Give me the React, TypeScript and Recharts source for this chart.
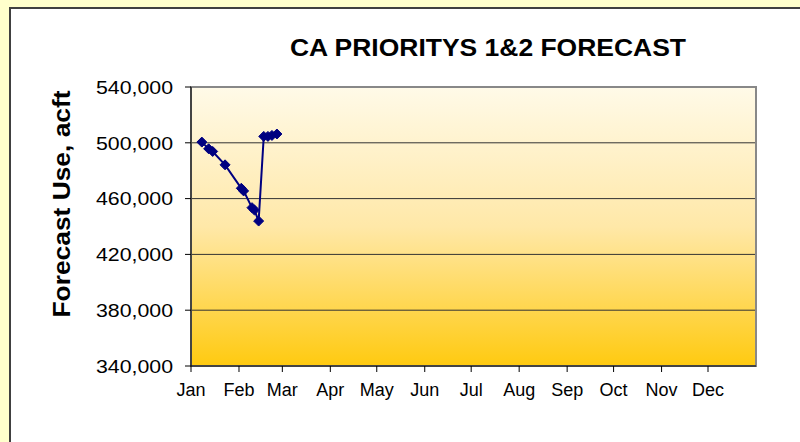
import React from 'react';
import { LineChart, Line, XAxis, YAxis, CartesianGrid, ReferenceArea } from 'recharts';

// Day-of-year of each forecast point
const days = [7, 11.4, 14, 22, 32.5, 34, 39.4, 41, 43.7, 47, 49.7, 52.3, 55.5];
// Forecast use, acft
const forecastUse = [500500, 495700, 493800, 484200, 467400, 465500, 453500, 451800, 443900, 504600, 504600, 505300, 506300];

const monthStarts = [0, 31, 59, 90, 120, 151, 181, 212, 243, 273, 304, 334];
const monthLabels = ['Jan', 'Feb', 'Mar', 'Apr', 'May', 'Jun', 'Jul', 'Aug', 'Sep', 'Oct', 'Nov', 'Dec'];
const yTicks = [340000, 380000, 420000, 460000, 500000, 540000];

const title = 'CA PRIORITYS 1&2 FORECAST';
const yLabel = 'Forecast Use, acft';

const data = days.map((d, i) => ({ day: d, use: forecastUse[i] }));

const FONT = 'Arial, "Liberation Sans", sans-serif';

const Diamond = (props: any) => {
  const { cx, cy } = props;
  if (cx == null || cy == null) return null;
  const r = 5;
  return (
    <polygon
      points={`${cx},${cy - r} ${cx + r},${cy} ${cx},${cy + r} ${cx - r},${cy}`}
      fill="#000080"
      stroke="#000080"
      strokeWidth={1}
    />
  );
};

const YTick = (props: any) => {
  const { x, y, payload } = props;
  const label = Number(payload.value).toLocaleString('en-US');
  return (
    <text
      x={x}
      y={y}
      dy="0.355em"
      textAnchor="end"
      fontFamily={FONT}
      fontSize={19}
      fill="#000"
      textLength={77}
      lengthAdjust="spacingAndGlyphs"
    >
      {label}
    </text>
  );
};

const XTick = (props: any) => {
  const { x, y, payload } = props;
  const label = monthLabels[monthStarts.indexOf(payload.value)];
  return (
    <text x={x} y={y} dy="0.71em" textAnchor="middle" fontFamily={FONT} fontSize={18} fill="#000">
      {label}
    </text>
  );
};

export default function App() {
  return (
    <div style={{ position: 'absolute', left: 0, top: 0, width: 800, height: 442, background: '#FFFFCC', overflow: 'hidden' }}>
      <div
        style={{
          position: 'absolute',
          left: 9,
          top: 7,
          width: 820,
          height: 460,
          background: '#FFFFFF',
          borderLeft: '2px solid #404040',
          borderTop: '2px solid #404040',
        }}
      />
      <div style={{ position: 'absolute', left: 0, top: 0 }}>
        <LineChart
          width={800}
          height={442}
          data={data}
          margin={{ top: 87, right: 44, bottom: 46, left: 91 }}
        >
          <defs>
            <linearGradient id="plotBg" x1="0" y1="0" x2="0" y2="1">
              <stop offset="0%" stopColor="#FFFAE8" />
              <stop offset="50%" stopColor="#FFE8A8" />
              <stop offset="100%" stopColor="#FFCA10" />
            </linearGradient>
          </defs>
          <CartesianGrid vertical={false} stroke="#333333" strokeWidth={1} fill="url(#plotBg)" fillOpacity={1} />
          <XAxis
            dataKey="day"
            type="number"
            domain={[0, 365]}
            ticks={monthStarts}
            interval={0}
            height={30}
            tickSize={6}
            tickMargin={11}
            stroke="#000"
            tick={<XTick />}
            allowDataOverflow
          />
          <YAxis
            type="number"
            domain={[340000, 540000]}
            ticks={yTicks}
            interval={0}
            width={100}
            tickSize={6}
            tickMargin={12}
            stroke="#000"
            tick={<YTick />}
            allowDataOverflow
          />
          <ReferenceArea
            x1={0}
            x2={365}
            y1={340000}
            y2={540000}
            fill="none"
            stroke="#888888"
            strokeWidth={2}
            ifOverflow="extendDomain"
          />
          <Line
            type="linear"
            dataKey="use"
            stroke="#000080"
            strokeWidth={2}
            dot={<Diamond />}
            activeDot={false}
            isAnimationActive={false}
          />
        </LineChart>
      </div>
      <svg width={800} height={442} style={{ position: 'absolute', left: 0, top: 0, pointerEvents: 'none' }}>
        <text
          x={488}
          y={56}
          textAnchor="middle"
          fontFamily={FONT}
          fontWeight="bold"
          fontSize={24}
          fill="#000"
          textLength={396}
          lengthAdjust="spacingAndGlyphs"
        >
          {title}
        </text>
        <text
          x={0}
          y={0}
          transform="translate(70,204) rotate(-90)"
          textAnchor="middle"
          fontFamily={FONT}
          fontWeight="bold"
          fontSize={24}
          fill="#000"
          textLength={227}
          lengthAdjust="spacingAndGlyphs"
        >
          {yLabel}
        </text>
      </svg>
    </div>
  );
}
